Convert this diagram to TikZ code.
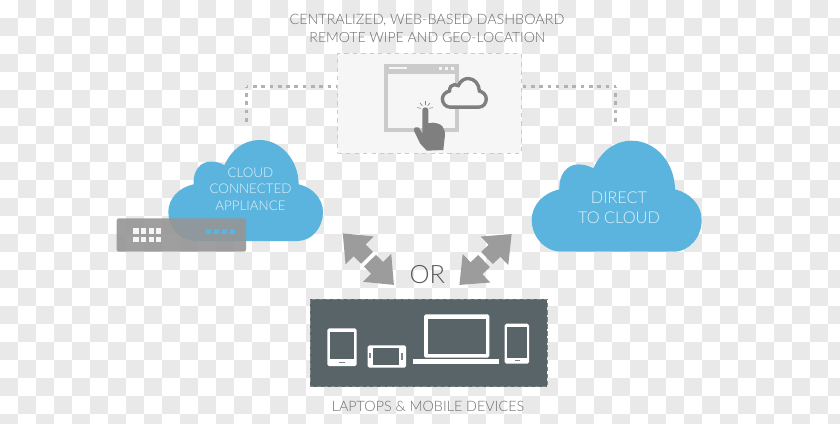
\documentclass[tikz,border=0pt]{standalone}
\usepackage{fontspec}
\setmainfont{Lato}[UprightFont=* Light]
\definecolor{CheckGrey}{HTML}{E9E9E9}
\definecolor{CloudBlue}{HTML}{5AB4DE}
\definecolor{CloudText}{HTML}{E2F2FA}
\definecolor{PanelSlate}{HTML}{586468}
\definecolor{PanelEdge}{HTML}{7A8588}
\definecolor{DotGrey}{HTML}{AEB3B5}
\definecolor{ArrowGrey}{HTML}{9C9C9C}
\definecolor{LabelGrey}{HTML}{6E6E6E}
\definecolor{WindowGrey}{HTML}{CBCBCB}
\definecolor{IconGrey}{HTML}{7F7F7F}
\definecolor{SheetGrey}{HTML}{F6F6F6}
\definecolor{ServerGrey}{HTML}{959595}
\usetikzlibrary{arrows.meta}
% coordinates below are given in units of 0.25mm, y pointing down
\tikzset{
  pics/cloudshape/.style={code={
    \path[pic actions] (30,111) -- (141.7,111)
      .. controls (158,111) and (170,96) .. (170,79.3)
      .. controls (170,64) and (158,52) .. (143.3,48.7)
      .. controls (143,22) and (124,0) .. (100,0)
      .. controls (83,0) and (69,11) .. (61.7,27.7)
      .. controls (57,25) and (52,23.7) .. (46.7,23.7)
      .. controls (35,23.7) and (27,34) .. (27.7,48.7)
      .. controls (12,52) and (0,64) .. (0,79.3)
      .. controls (0,96) and (13,111) .. (30,111) -- cycle;
  }}
}
\begin{document}
\begin{tikzpicture}[
x=0.025cm,y=-0.025cm,
toptext/.style={text=LabelGrey,font=\fontsize{10.2}{12}\selectfont},
cloudsmall/.style={text=CloudText,font=\fontsize{9.5}{11.8}\selectfont,align=center},
cloudbig/.style={text=CloudText,font=\fontsize{11.6}{14}\selectfont,align=center},
dashbox/.style={draw=WindowGrey,dashed,fill=SheetGrey,line width=0.5pt,minimum width=4.58cm,minimum height=2.5cm,inner sep=0pt},
panel/.style={draw=PanelEdge,densely dashed,fill=PanelSlate,line width=0.4pt,minimum width=5.93cm,minimum height=2.18cm,inner sep=0pt},
dotline/.style={draw=DotGrey,line width=2.5pt,dash pattern=on 2.6pt off 3.3pt,dash phase=1.3pt},
bigarr/.style={-{Triangle[length=0.6cm,width=0.95cm]},draw=ArrowGrey,line width=0.42cm},
device/.style={fill=white,rounded corners=1.2pt},
screen/.style={fill=PanelSlate}
]
\useasboundingbox (0,0) rectangle (840,423);
% checker background
\fill[white] (0,0) rectangle (840,423);
\begin{scope}
\clip (0,0) rectangle (840,423);
\foreach \col in {0,...,46}
  \foreach \row in {0,...,23}{
    \pgfmathparse{int(mod(\col+\row,2))}
    \ifnum\pgfmathresult=1
      \fill[CheckGrey] (18*\col,18*\row) rectangle ++(18,18);
    \fi
  }
\end{scope}

\node[toptext] (title) at (427,20) {CENTRALIZED, WEB-BASED DASHBOARD};
\node[toptext,font=\fontsize{10}{12}\selectfont] (subtitle) at (427.5,37.5) {REMOTE WIPE AND GEO-LOCATION};

% dashboard
\node[dashbox] (dash) at (429.4,103.3) {};
\coordinate (leftcorner) at (246.5,86.5);
\coordinate (leftend) at (246.5,122);
\coordinate (rightcorner) at (615.7,86.5);
\coordinate (rightend) at (615.7,122);
\draw[dotline] (leftcorner) -- (dash.west |- leftcorner);
\draw[dotline] (leftcorner) -- (leftend);
\draw[dotline] (rightcorner) -- (dash.east |- rightcorner);
\draw[dotline] (rightcorner) -- (rightend);

\draw[WindowGrey,line width=2.6pt,fill=SheetGrey] (386,66) rectangle (457,130);
\fill[WindowGrey] (385,64.5) rectangle (458,73.5);
\fill[SheetGrey] (389,66.8) rectangle (407,69.4);
\foreach \x in {439,445,451}
  \fill[SheetGrey] (\x,66.8) rectangle ++(3,3);
\pic[fill=SheetGrey,draw=IconGrey,line width=2.4pt,scale=0.258] at (442.4,78.5) {cloudshape};
\foreach \ang in {10,50,90,130,170}
  \draw[IconGrey,line width=0.4pt] (425,109) ++(-\ang:4) -- ++(-\ang:4);
\fill[IconGrey] (422.3,110) .. controls (422.3,106.5) and (428.3,106.5) .. (428.3,110)
  -- (428.3,123.3) .. controls (432,122.5) and (435,122.5) .. (436.7,123.3)
  .. controls (440,124) and (443,126) .. (443.3,128.3)
  .. controls (445,131) and (445.3,133) .. (445,135) -- (443.3,150) -- (426.7,150.7)
  .. controls (424,147) and (421.5,146) .. (420,143.3)
  -- (414,130.7) .. controls (413.5,128) and (415,126.8) .. (416,127.3)
  .. controls (418,127) and (419,127.5) .. (419.3,128.3) -- (422.3,133.3) -- cycle;

% left cloud and appliance
\pic[fill=CloudBlue,scale=0.91] at (168.3,140) {cloudshape};
\node[cloudsmall] (applabel) at (250.5,189) {CLOUD\\CONNECTED\\APPLIANCE};
\fill[ServerGrey,fill opacity=0.9,rounded corners=1.5pt] (116.7,218.3) rectangle (246,251.7);
\foreach \x in {133.3,141,148.7,156}
  \foreach \y in {228.3,236.5}
    \fill[white,fill opacity=0.9] (\x,\y) rectangle ++(5.3,5.3);
\foreach \x in {206,214,222,230}
  \fill[CloudBlue] (\x,229) rectangle ++(5,5);

% right cloud
\pic[fill=CloudBlue] at (531.7,140.7) {cloudshape};
\node[cloudbig] (directlabel) at (619,207.5) {DIRECT\\TO CLOUD};

% arrows
\coordinate (lefttop) at (342.7,233.3);
\coordinate (leftmidA) at (367,257.8);
\coordinate (leftmidB) at (370,260.7);
\coordinate (leftlow) at (394,285);
\coordinate (righttop) at (511.7,234);
\coordinate (rightmidA) at (487,258);
\coordinate (rightmidB) at (484,261);
\coordinate (rightlow) at (459.3,285);
\draw[bigarr] (leftmidA) -- (lefttop);
\draw[bigarr] (leftmidB) -- (leftlow);
\draw[bigarr] (rightmidA) -- (righttop);
\draw[bigarr] (rightmidB) -- (rightlow);
\node[text=black!65,font=\fontsize{18}{20}\selectfont] (orlabel) at (427.3,275) {OR};

% devices panel
\node[panel] (devices) at (428.6,343) {};
\fill[device] (327.3,328.3) rectangle (356.7,366);
\fill[screen] (330,332.3) rectangle (354,359);
\fill[PanelEdge] (339.3,361.8) rectangle (345,363.2);
\fill[device] (367.7,345.3) rectangle (406,367.7);
\fill[screen] (372.7,348.3) rectangle (399,365);
\fill[PanelEdge] (369,353.3) rectangle (371,358);
\fill[PanelEdge] (401,353.3) rectangle (403.3,360);
\fill[device] (424,314.3) rectangle (489.3,357.7);
\fill[screen] (428,319.3) rectangle (486,354.3);
\fill[white] (412.7,359.3) rectangle (499.3,364.3);
\fill[device] (504.7,323.7) rectangle (529,363.7);
\fill[screen] (507.3,327.3) rectangle (526.7,357.7);
\fill[PanelEdge] (514.5,360) rectangle (519.5,361.4);
\node[text=LabelGrey,font=\fontsize{10.2}{12}\selectfont] (devlabel) at (428,406.7) {LAPTOPS \& MOBILE DEVICES};
\end{tikzpicture}
\end{document}
